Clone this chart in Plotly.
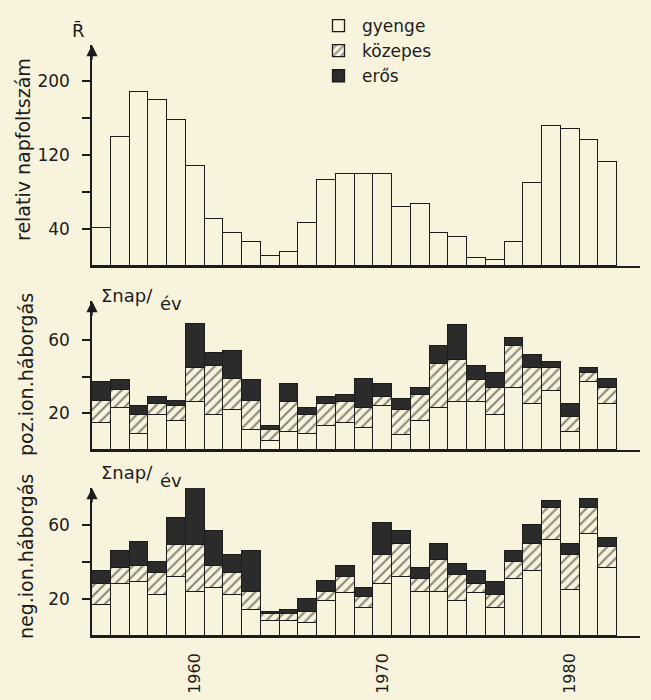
import plotly.graph_objects as go

# Years shown on the common time axis
years = [1955, 1956, 1957, 1958, 1959, 1960, 1961, 1962, 1963, 1964,
         1965, 1966, 1967, 1968, 1969, 1970, 1971, 1972, 1973, 1974,
         1975, 1976, 1977, 1978, 1979, 1980, 1981, 1982]

# Yearly mean relative sunspot number
sunspots = [41, 140, 188, 179, 158, 108, 51, 36, 26, 11,
            15, 47, 93, 100, 100, 100, 64, 67, 36, 31,
            9, 6, 26, 90, 151, 148, 136, 112]

# Positive ionospheric storms, days per year (weak / moderate / strong)
pos_weak = [15, 23, 9, 19, 16, 26, 19, 22, 11, 5,
            10, 9, 13, 15, 12, 24, 8, 16, 23, 26,
            26, 19, 34, 25, 32, 10, 37, 25]
pos_moderate = [12, 10, 10, 6, 8, 19, 27, 17, 16, 6,
                16, 10, 12, 11, 11, 5, 14, 14, 24, 23,
                12, 15, 23, 20, 13, 8, 5, 9]
pos_strong = [10, 5, 5, 4, 3, 24, 7, 15, 11, 2,
              10, 4, 4, 4, 16, 7, 6, 4, 10, 19,
              8, 8, 4, 7, 3, 7, 3, 5]

# Negative ionospheric storms, days per year (weak / moderate / strong)
neg_weak = [17, 28, 29, 22, 32, 24, 26, 22, 14, 8,
            8, 7, 19, 23, 15, 28, 32, 24, 24, 19,
            23, 15, 31, 35, 52, 25, 55, 37]
neg_moderate = [11, 9, 9, 12, 17, 25, 12, 12, 10, 4,
                4, 6, 5, 9, 6, 16, 18, 7, 17, 14,
                5, 7, 9, 15, 17, 19, 14, 11]
neg_strong = [7, 9, 13, 6, 15, 35, 19, 10, 22, 1,
              2, 7, 6, 6, 5, 17, 7, 6, 9, 6,
              7, 7, 6, 10, 4, 6, 5, 5]

year_ticks = [1960, 1970, 1980]
class_names = ["gyenge", "közepes", "erős"]

# ---- styling -------------------------------------------------------------
W, H = 651, 700
L, R, T, B = 92, 640, 45, 636          # plot area in pixels
PAPER = "#f8f3dc"
INK = "#1c1c1c"
DARK = "#2b2b2b"
FONT = "DejaVu Sans, Liberation Sans, sans-serif"


def fx(px):
    return (px - L) / (R - L)


def fy(py):
    return (B - py) / (B - T)


# vertical extent of each panel (pixels): baseline, top of the axis arrow
panels = {
    "top": (266, 45),
    "mid": (450, 301),
    "bot": (636, 488),
}
# pixels per unit in each panel
scale = {"top": 0.925, "mid": 1.833, "bot": 1.85}

fig = go.Figure()

line = dict(color=INK, width=1.3)

# top panel: sunspot number
fig.add_trace(go.Bar(x=years, y=sunspots, width=1, xaxis="x", yaxis="y",
                     marker=dict(color=PAPER, line=line), showlegend=False))


def storm_traces(weak, moderate, strong, xa, ya, legend):
    fig.add_trace(go.Bar(x=years, y=weak, width=1, xaxis=xa, yaxis=ya,
                         name=class_names[0], showlegend=legend,
                         marker=dict(color=PAPER, line=line)))
    fig.add_trace(go.Bar(x=years, y=moderate, width=1, xaxis=xa, yaxis=ya,
                         name=class_names[1], showlegend=legend,
                         marker=dict(color=PAPER, line=line,
                                     pattern=dict(shape="/", fgcolor=INK,
                                                  bgcolor=PAPER, size=7,
                                                  solidity=0.3))))
    fig.add_trace(go.Bar(x=years, y=strong, width=1, xaxis=xa, yaxis=ya,
                         name=class_names[2], showlegend=legend,
                         marker=dict(color=DARK, line=line)))


storm_traces(pos_weak, pos_moderate, pos_strong, "x2", "y2", True)
storm_traces(neg_weak, neg_moderate, neg_strong, "x3", "y3", False)

xrange = [1954.5, 1954.5 + (R - L) / 18.75]

xbase = dict(range=xrange, showline=True, linecolor=INK, linewidth=1.5,
             showgrid=False, zeroline=False, ticks="", showticklabels=False,
             fixedrange=True, automargin=False)
ybase = dict(showline=True, linecolor=INK, linewidth=1.5, showgrid=False,
             zeroline=False, ticks="outside", ticklen=8, tickwidth=1.5,
             tickcolor=INK, ticklabelstandoff=9, automargin=False,
             tickfont=dict(family=FONT, size=17, color=INK))


def ydom(key):
    base, top = panels[key]
    return [fy(base), fy(top)], [0, (base - top) / scale[key]]


d_top, r_top = ydom("top")
d_mid, r_mid = ydom("mid")
d_bot, r_bot = ydom("bot")

fig.update_layout(
    width=W, height=H,
    margin=dict(l=L, r=W - R, t=T, b=H - B, autoexpand=False),
    paper_bgcolor=PAPER, plot_bgcolor=PAPER,
    barmode="stack", bargap=0,
    font=dict(family=FONT, color=INK),
    xaxis=dict(xbase, anchor="y"),
    xaxis2=dict(xbase, anchor="y2", matches="x"),
    xaxis3=dict(xbase, anchor="y3", matches="x", showticklabels=True,
                tickvals=year_ticks, ticktext=[str(v) for v in year_ticks],
                tickangle=-90, ticklabelstandoff=9,
                tickfont=dict(family=FONT, size=16, color=INK)),
    yaxis=dict(ybase, domain=d_top, range=r_top, anchor="x",
               tickvals=[40, 80, 120, 160, 200],
               ticktext=["40", "", "120", "", "200"]),
    yaxis2=dict(ybase, domain=d_mid, range=r_mid, anchor="x2",
                tickvals=[20, 40, 60], ticktext=["20", "", "60"]),
    yaxis3=dict(ybase, domain=d_bot, range=r_bot, anchor="x3",
                tickvals=[20, 40, 60], ticktext=["20", "", "60"]),
    legend=dict(x=fx(315), y=fy(8), xanchor="left", yanchor="top",
                traceorder="normal", bgcolor="rgba(0,0,0,0)",
                font=dict(family=FONT, size=17, color=INK),
                itemwidth=37),
)

# arrowheads on top of the value axes
for ya in ["y", "y2", "y3"]:
    xa = {"y": "x", "y2": "x2", "y3": "x3"}[ya]
    fig.add_annotation(x=0, y=1, xref=f"{xa} domain", yref=f"{ya} domain",
                       ax=0, ay=16, showarrow=True, arrowhead=2,
                       arrowsize=1.5, arrowwidth=1.5, arrowcolor=INK, text="")

ann_font = dict(family=FONT, size=19, color=INK)
# axis titles (rotated)
for text, py, px in [("relativ napfoltszám", 150, 23),
                     ("poz.ion.háborgás", 375, 26),
                     ("neg.ion.háborgás", 557, 26)]:
    fig.add_annotation(x=fx(px), y=fy(py), xref="paper", yref="paper",
                       text=text, textangle=-90, showarrow=False,
                       font=ann_font, xanchor="center", yanchor="middle")

# unit labels
fig.add_annotation(x=fx(70), y=fy(18), xref="paper", yref="paper",
                   text="R\u0304", showarrow=False,
                   font=dict(family=FONT, size=18, color=INK))
for py in [295, 485]:
    fig.add_annotation(x=fx(99), y=fy(py), xref="paper", yref="paper",
                       text="Σnap/", showarrow=False, xanchor="left",
                       font=dict(family=FONT, size=18, color=INK))
    fig.add_annotation(x=fx(158), y=fy(py + 8), xref="paper", yref="paper",
                       text="év", showarrow=False, xanchor="left",
                       font=dict(family=FONT, size=18, color=INK))

fig.write_html("out.html")
